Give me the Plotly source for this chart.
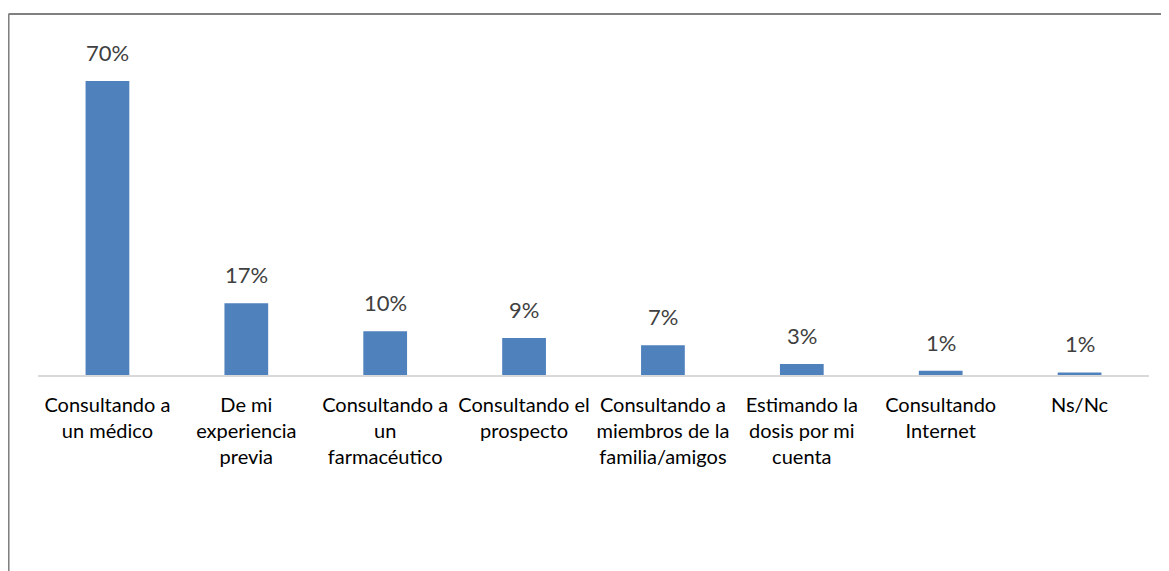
import plotly.graph_objects as go

categories = [
    "Consultando a<br>un médico",
    "De mi<br>experiencia<br>previa",
    "Consultando a<br>un<br>farmacéutico",
    "Consultando el<br>prospecto",
    "Consultando a<br>miembros de la<br>familia/amigos",
    "Estimando la<br>dosis por mi<br>cuenta",
    "Consultando<br>Internet",
    "Ns/Nc",
]
values = [70.0, 17.1, 10.4, 8.8, 7.1, 2.6, 1.0, 0.6]
labels = [f"{round(v)}%" for v in values]

font_name = "Lato, Open Sans, sans-serif"

fig = go.Figure()
fig.add_trace(go.Bar(
    x=categories,
    y=values,
    marker=dict(color="#4F81BD", line=dict(width=0)),
    hoverinfo="skip",
))

for c, v, t in zip(categories, values, labels):
    fig.add_annotation(
        x=c, y=v, text=t, showarrow=False,
        yanchor="bottom", yshift=13,
        font=dict(family=font_name, size=22, color="#404040"),
    )

# cropped chart frame (top and left edges visible)
frame = dict(color="#808080", width=2)
fig.add_shape(type="line", xref="paper", yref="paper",
              x0=-0.0265, x1=1.05, y0=1.0744, y1=1.0744, line=frame)
fig.add_shape(type="line", xref="paper", yref="paper",
              x0=-0.0265, x1=-0.0265, y0=1.0744, y1=-0.65, line=frame)

# page body adds an 8px offset, so margins are shifted by that amount
fig.update_layout(
    width=1169, height=571,
    margin=dict(l=29.5, r=27.5, t=31, b=204),
    paper_bgcolor="white", plot_bgcolor="white",
    bargap=0.685,
    showlegend=False,
    xaxis=dict(
        showline=True, linecolor="#D9D9D9", linewidth=2,
        ticks="", showgrid=False,
        tickfont=dict(family=font_name, size=20, color="#000000"),
        ticklabelstandoff=11,
    ),
    yaxis=dict(range=[0, 80], visible=False, showgrid=False, zeroline=False),
)

fig.write_html("out.html")
